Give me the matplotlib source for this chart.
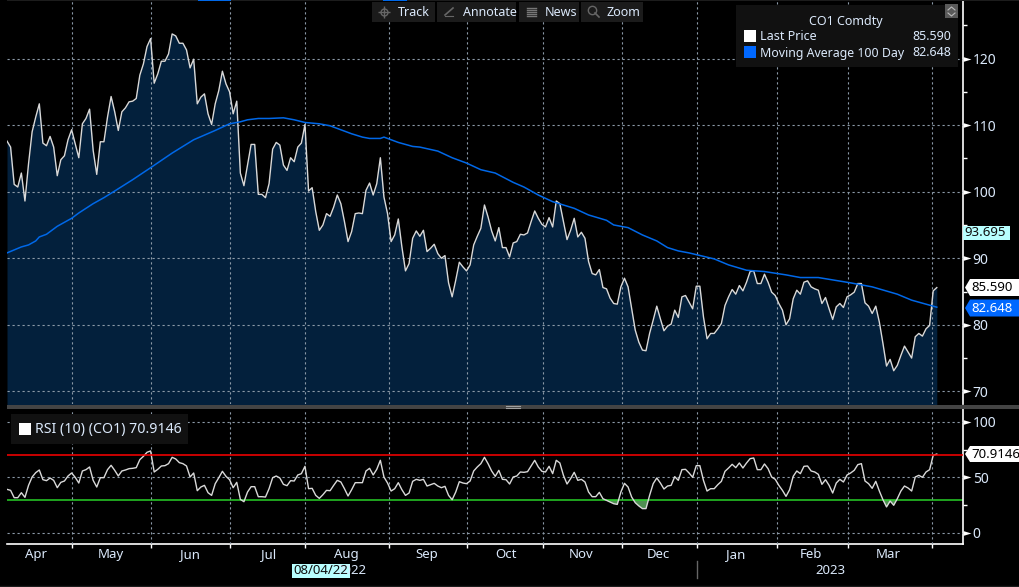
import numpy as np
import matplotlib
matplotlib.use("Agg")
import matplotlib.pyplot as plt
from matplotlib.path import Path
from matplotlib.patches import Rectangle, Polygon

# CO1 Comdty daily closes
last_price = [
    107.6, 106.7, 101.1, 100.7, 102.8, 98.6, 104.2, 109.0, 111.2, 113.2,
    107.3, 106.9, 108.3, 106.7, 102.4, 104.8, 105.4, 107.8, 109.3, 107.2,
    105.1, 110.2, 111.0, 112.4, 106.2, 102.6, 107.5, 107.5, 111.2, 114.3,
    112.0, 109.2, 112.0, 112.6, 113.5, 113.6, 114.0, 117.5, 119.2, 121.8,
    123.0, 116.3, 117.7, 119.6, 119.6, 120.7, 123.7, 123.4, 122.3, 122.3,
    121.3, 118.6, 119.9, 113.2, 114.2, 114.7, 111.7, 110.1, 113.2, 115.2,
    118.1, 116.2, 115.0, 111.7, 113.6, 102.8, 100.9, 104.0, 107.1, 107.1,
    99.6, 99.6, 99.1, 101.2, 106.4, 107.4, 107.0, 104.0, 103.2, 105.1,
    104.5, 106.7, 107.3, 110.1, 100.1, 100.6, 97.0, 94.2, 95.0, 96.7,
    96.3, 97.7, 99.5, 98.2, 95.5, 92.5, 94.0, 96.7, 96.8, 96.7,
    100.2, 101.3, 99.5, 101.2, 105.1, 99.2, 96.7, 92.5, 93.5, 95.9,
    91.7, 88.1, 89.2, 93.0, 94.1, 93.3, 94.2, 91.0, 91.5, 92.1,
    90.7, 90.0, 90.4, 86.3, 84.2, 86.7, 89.4, 88.7, 88.1, 89.0,
    92.0, 93.3, 94.5, 98.0, 96.2, 94.1, 92.6, 94.6, 91.6, 91.6,
    90.2, 92.3, 92.5, 93.6, 93.5, 93.8, 95.5, 97.1, 96.0, 95.1,
    94.7, 96.1, 94.7, 98.6, 98.2, 95.5, 92.8, 94.2, 96.0, 93.2,
    93.9, 93.0, 89.5, 87.7, 87.5, 88.3, 85.6, 85.4, 84.0, 83.2,
    83.1, 85.7, 87.0, 85.7, 82.4, 79.2, 77.4, 76.2, 76.1, 78.7,
    80.7, 82.8, 80.9, 79.1, 79.8, 80.1, 82.2, 81.1, 84.2, 84.4,
    83.4, 82.4, 85.8, 85.8, 81.2, 77.9, 78.7, 78.7, 79.4, 80.2,
    82.9, 84.2, 85.3, 84.6, 85.9, 85.1, 86.4, 88.0, 88.1, 86.2,
    86.2, 87.6, 86.4, 84.9, 84.4, 83.2, 82.2, 80.0, 80.9, 83.9,
    85.2, 84.6, 86.4, 86.6, 85.7, 85.4, 85.2, 83.2, 84.1, 82.4,
    80.8, 82.7, 83.2, 82.6, 84.2, 84.5, 84.9, 86.2, 86.2, 83.3,
    82.8, 81.7, 82.8, 80.4, 77.2, 73.8, 74.8, 73.1, 73.9, 75.4,
    76.8, 75.9, 75.0, 78.2, 78.7, 78.3, 79.4, 79.9, 85.1, 85.59,
]

ma_day = [
    0, 4, 6, 8, 9, 11, 14, 18, 20, 24, 27, 30, 35, 40, 46, 49, 52, 58, 62, 65,
    67, 70, 73, 77, 80, 83, 87, 90, 93, 96, 99, 101, 104, 105, 109, 113, 115,
    120, 124, 128, 132, 136, 141, 144, 148, 152, 158, 162, 167, 169, 173, 177,
    181, 184, 187, 190, 197, 201, 206, 211, 217, 221, 226, 235, 241, 248, 252, 259,
]
ma_100 = [
    90.8, 91.7, 92.0, 92.6, 93.2, 93.6, 94.8, 96.0, 96.8, 98.2, 99.1, 100.1,
    101.8, 103.6, 105.8, 106.8, 107.8, 109.2, 110.2, 110.5, 110.8, 111.0, 111.0,
    111.1, 110.8, 110.4, 110.2, 109.9, 109.3, 108.7, 108.2, 108.0, 108.0, 108.2,
    107.4, 106.8, 106.7, 106.1, 105.1, 104.3, 103.3, 102.8, 101.4, 100.7, 99.5,
    98.5, 97.5, 96.5, 95.7, 95.0, 94.6, 93.5, 92.6, 91.6, 91.1, 90.8, 89.9, 89.0,
    88.2, 88.0, 87.5, 87.1, 87.1, 86.3, 85.7, 84.6, 83.7, 82.648,
]

rsi_10 = [
    39.2, 38.3, 31.7, 31.7, 36.2, 32.0, 42.8, 50.3, 54.2, 56.6,
    47.9, 47.0, 49.4, 47.3, 40.7, 45.5, 46.7, 51.2, 53.9, 50.0,
    44.9, 55.7, 56.9, 59.3, 47.3, 41.3, 49.7, 49.7, 56.9, 60.8,
    56.3, 51.2, 55.7, 56.6, 57.8, 58.1, 58.7, 65.9, 68.9, 72.5,
    73.7, 54.8, 57.2, 60.2, 60.5, 62.3, 68.0, 66.5, 63.2, 62.3,
    60.2, 50.3, 53.9, 38.0, 41.3, 42.8, 36.2, 33.8, 44.3, 49.7,
    55.4, 50.9, 47.9, 40.7, 45.5, 30.2, 28.1, 36.8, 41.6, 41.6,
    32.6, 32.6, 32.3, 39.8, 49.7, 51.2, 49.4, 43.7, 42.5, 47.0,
    46.7, 52.1, 53.3, 59.9, 39.8, 40.1, 33.8, 31.1, 34.4, 38.3,
    38.0, 42.8, 47.3, 45.8, 39.8, 33.2, 38.9, 45.2, 45.2, 45.2,
    55.7, 58.1, 52.1, 57.2, 65.3, 50.3, 44.9, 37.7, 39.8, 45.2,
    38.9, 33.8, 35.9, 46.4, 48.2, 47.3, 48.2, 42.2, 43.4, 44.6,
    42.2, 40.7, 41.9, 33.8, 29.9, 36.8, 46.1, 44.9, 44.3, 46.7,
    55.7, 59.3, 62.3, 68.0, 62.3, 55.7, 50.9, 56.3, 48.2, 47.9,
    44.0, 50.3, 51.2, 54.8, 54.5, 55.1, 60.2, 65.3, 59.3, 55.4,
    54.8, 59.9, 53.3, 65.3, 62.9, 51.8, 44.0, 48.8, 54.5, 47.3,
    48.2, 45.8, 36.8, 32.6, 32.6, 36.5, 30.8, 29.3, 27.8, 26.3,
    25.7, 36.8, 44.6, 41.3, 32.3, 27.2, 24.3, 21.9, 21.9, 33.8,
    44.3, 49.4, 44.9, 39.5, 42.2, 42.8, 50.6, 47.3, 56.9, 57.2,
    53.9, 50.0, 60.5, 60.5, 47.3, 37.7, 39.8, 39.8, 43.4, 46.4,
    55.4, 58.4, 61.7, 58.7, 62.9, 58.4, 62.9, 66.8, 67.4, 56.9,
    56.9, 62.0, 57.8, 50.3, 48.2, 42.8, 38.3, 32.9, 38.9, 50.9,
    55.7, 53.3, 59.9, 60.2, 55.7, 54.8, 52.7, 43.7, 47.9, 42.8,
    35.9, 44.9, 48.2, 45.8, 52.1, 53.9, 56.3, 61.4, 62.3, 46.7,
    44.3, 40.1, 46.4, 37.7, 29.9, 23.4, 28.7, 24.9, 30.8, 37.7,
    42.2, 40.4, 37.7, 50.3, 51.8, 50.0, 54.8, 56.9, 69.8, 70.9146,
]

# month ends as trading day index, month names go in between
month_end = [18.2, 40.2, 62.2, 83.1, 106.3, 128.2, 149.4, 171.4, 192.3, 214.4, 234.3, 257.6]
month_labels = ["Apr", "May", "Jun", "Jul", "Aug", "Sep", "Oct", "Nov", "Dec", "Jan", "Feb", "Mar"]
month_center = [8, 29, 51, 73, 94.5, 117, 139, 160, 181.5, 203, 224, 245.5]

price_ticks = [70, 80, 90, 100, 110, 120]
price_minor = [75, 85, 95, 105, 115, 125]
rsi_ticks = [0, 50, 100]
rsi_minor = [25, 75]
rsi_over = 70
rsi_under = 30

TEXT = "#dbe9fb"
W, H = 1020, 587
plt.rcParams["font.family"] = ["Noto Sans", "DejaVu Sans"]
plt.rcParams["font.size"] = 9

days = np.arange(len(last_price))
price = np.array(last_price)
rsi = np.array(rsi_10)

# caret with its base on the axis line
CARET = Path([(0, -0.3), (1, 0), (0, 0.3), (0, -0.3)], closed=True)

fig = plt.figure(figsize=(W / 100, H / 100), dpi=100, facecolor="black")


def pix_axes(x0, y0, x1, y1):
    return fig.add_axes([x0 / W, 1 - y1 / H, (x1 - x0) / W, (y1 - y0) / H], facecolor="black")


ax = pix_axes(7, 0, 963, 404)
ax_rsi = pix_axes(7, 409, 963, 544)

# price panel
ax.fill_between(days, price, 60, color="#03203c", lw=0, zorder=1)
ax.plot(days, price, color="#d9d9d9", lw=1.0, zorder=3)
ax.plot(ma_day, ma_100, color="#0068e8", lw=1.1, zorder=4)
ax.set_ylim(68.1, 128.8)
ax.set_yticks(price_ticks)
ax.set_yticks(price_minor, minor=True)

# rsi panel
ax_rsi.fill_between(days, rsi, rsi_under, where=rsi < rsi_under, interpolate=True,
                    color="#4f8f52", lw=0, zorder=1)
ax_rsi.plot(days, rsi, color="#d9d9d9", lw=1.0, zorder=3)
ax_rsi.axhline(rsi_over, color="#ff0000", lw=1.1, zorder=4)
ax_rsi.axhline(rsi_under, color="#28d028", lw=1.1, zorder=2)
ax_rsi.set_ylim(-9.9, 111.4)
ax_rsi.set_yticks(rsi_ticks)
ax_rsi.set_yticks(rsi_minor, minor=True)

for a in (ax, ax_rsi):
    a.set_xlim(0, 266.3)
    a.set_xticks(month_end)
    a.grid(True, color="#8c9aa8", lw=0.8, ls=(0, (2, 2.5)), zorder=2)
    a.set_axisbelow(False)
    for s in ("top", "left", "bottom"):
        a.spines[s].set_visible(False)
    a.spines["right"].set_color("white")
    a.spines["right"].set_linewidth(1.2)
    a.yaxis.tick_right()
    a.tick_params(axis="y", which="major", colors=TEXT, labelsize=10, pad=7, length=0)
    a.tick_params(axis="y", which="minor", color="white", length=3, width=1)
    for t in a.yaxis.get_major_ticks():
        t.tick2line.set_marker(CARET)
        t.tick2line.set_markersize(11.5)
        t.tick2line.set_markeredgewidth(0)
        t.tick2line.set_markerfacecolor("white")

ax.tick_params(axis="x", length=0, labelbottom=False)
ax_rsi.spines["bottom"].set_visible(True)
ax_rsi.spines["bottom"].set_color("white")
ax_rsi.spines["bottom"].set_linewidth(1.2)
ax_rsi.tick_params(axis="x", color="white", length=3, width=1, labelbottom=False)

xt = ax_rsi.get_xaxis_transform()
for d, name in zip(month_center, month_labels):
    ax_rsi.text(d, -0.08, name, transform=xt, color=TEXT, fontsize=9.5, ha="center", va="center")


# everything around the plots, in screen pixels
ui = fig.add_axes([0, 0, 1, 1], facecolor="none", zorder=10)
ui.set_xlim(0, W)
ui.set_ylim(H, 0)
ui.axis("off")


def flag(y, text, fc, tc, x0=965, x1=1020, hh=8.5):
    ui.add_patch(Polygon([(x0, y), (x0 + 5, y - hh), (x1, y - hh), (x1, y + hh), (x0 + 5, y + hh)], fc=fc, ec="none"))
    ui.text(x0 + 6, y, text, color=tc, fontsize=9.5, va="center", ha="left")


# cursor value
ui.add_patch(Rectangle((963.5, 226), 46.5, 14, fc="#b8ffff", ec="none"))
ui.text(964, 233, "93.695", color="#101010", fontsize=9.5, va="center", ha="left")

flag(287.5, "85.590", "white", "black")
flag(308, "82.648", "#0068ff", "white")
flag(454, "70.9146", "white", "black", hh=8)

# separator between the panels
ui.add_patch(Rectangle((7, 404.5), W - 7, 4.5, fc="#444444", ec="none"))
ui.plot([506, 520], [406, 406], color="#a0a0a0", lw=0.8)
ui.plot([506, 520], [408, 408], color="#a0a0a0", lw=0.8)

# toolbar
for x0, x1, label, tx in [(372, 435, "Track", 398), (437, 516, "Annotate", 463),
                          (519, 579, "News", 545), (581, 643, "Zoom", 607)]:
    ui.add_patch(Rectangle((x0, 2), x1 - x0, 20, fc="#1b1b1b", ec="none"))
    ui.text(tx, 12, label, color=TEXT, fontsize=9, va="center", ha="left")
ui.plot([384.5], [12], marker="+", ms=9, color="#666666", mew=1)
ui.plot([384.5], [12], marker="o", ms=5, mfc="none", color="#666666", mew=1)
ui.plot([445, 453], [15, 8], color="#666666", lw=1.2)
ui.plot([445, 453], [16, 16], color="#666666", lw=0.8)
for yy in (8, 10, 12, 14, 16):
    ui.plot([527, 536], [yy, yy], color="#777777", lw=1)
ui.plot([592], [10], marker="o", ms=6, mfc="none", color="#666666", mew=1)
ui.plot([595, 599], [13, 17], color="#666666", lw=1.2)

# thin strip along the top with its blue tabs
ui.add_patch(Rectangle((7, 0), W - 7, 1, fc="#1c1c1c", ec="none"))
ui.add_patch(Rectangle((198, 0), 33, 1, fc="#0068e8", ec="none"))
ui.add_patch(Rectangle((383, 0), 24, 1, fc="#0068e8", ec="none"))

# price legend
ui.add_patch(Rectangle((736, 5), 222, 62, fc="#111111", ec="none"))
ui.text(846, 21, "CO1 Comdty", color=TEXT, fontsize=9, ha="center", va="center")
ui.add_patch(Rectangle((744, 30), 12, 12, fc="white", ec="none"))
ui.text(760, 37, "Last Price", color=TEXT, fontsize=9, va="center")
ui.text(951, 37, "85.590", color=TEXT, fontsize=9, va="center", ha="right")
ui.add_patch(Rectangle((744, 46), 12, 12, fc="#0068ff", ec="none"))
ui.text(760, 53, "Moving Average 100 Day", color=TEXT, fontsize=8.9, va="center")
ui.text(951, 53, "82.648", color=TEXT, fontsize=9, va="center", ha="right")
ui.add_patch(Rectangle((945, 4), 13, 14, fc="#5a5a5a", ec="none"))
ui.plot([948, 951.5, 955], [10, 7, 10], color="#bbbbbb", lw=0.8)
ui.plot([948, 951.5, 955], [13, 16, 13], color="#bbbbbb", lw=0.8)

# rsi legend
ui.add_patch(Rectangle((11, 414), 177, 30, fc="#111111", ec="none"))
ui.add_patch(Rectangle((19, 423), 12, 12, fc="white", ec="none"))
ui.text(35, 430, "RSI (10) (CO1) 70.9146", color=TEXT, fontsize=10.2, va="center")

# year row under the months
ui.text(351, 571, "2022", color=TEXT, fontsize=9.5, ha="center", va="center")
ui.add_patch(Rectangle((292, 564), 58, 14, fc="#b8ffff", ec="none"))
ui.text(293, 571, "08/04/22", color="#101010", fontsize=9.5, va="center", ha="left")
ui.text(830, 571, "2023", color=TEXT, fontsize=9.5, ha="center", va="center")
ui.plot([697.5, 697.5], [561, 578], color="#666666", lw=1)
ui.plot([0, W], [586, 586], color="#1c1c1c", lw=1)

fig.savefig("out.png", dpi=100, facecolor="black")
